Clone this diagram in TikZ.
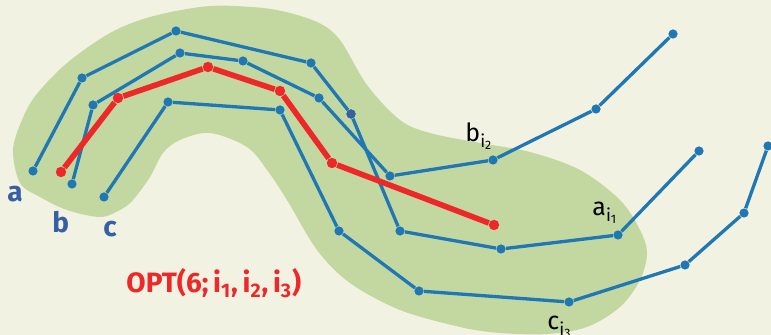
\documentclass[tikz,border=0pt]{standalone}
\usepackage{fontspec}
\setmainfont{Fira Sans}
\definecolor{paper}{RGB}{242,242,226}
\definecolor{blob}{RGB}{195,216,160}
\definecolor{pathblue}{RGB}{31,119,180}
\definecolor{labelblue}{RGB}{55,95,165}
\definecolor{optred}{RGB}{238,40,40}
\tikzset{
  walk/.style={draw=pathblue, line width=1.65pt},
  best/.style={draw=optred, line width=2.8pt},
  bluedot/.style={circle, fill=pathblue, inner sep=0pt, minimum size=4.6pt},
  reddot/.style={circle, fill=optred, inner sep=0pt, minimum size=5.2pt},
  endlabel/.style={anchor=base west, inner sep=0pt, text=labelblue,
    font=\fontsize{14}{16}\selectfont\bfseries},
  sublabel/.style={anchor=base west, inner sep=0pt,
    font=\fontsize{12.5}{15}\selectfont},
}
\begin{document}
\begin{tikzpicture}[x=0.5pt,y=-0.5pt]
\useasboundingbox[fill=paper] (0,0) rectangle (771,335);

% the region
\fill[blob] plot[smooth cycle, tension=0.55] coordinates {
  (13,150) (22,120) (36,95) (67,63) (110,33) (150,17) (200,7) (235,6)
  (277,10) (317,22) (340,40) (367,85) (400,120) (430,133) (480,143)
  (530,152) (580,170) (620,200) (640,230) (647,253) (640,280) (620,307)
  (587,327) (547,334) (500,333) (460,327) (400,310) (350,283) (317,250)
  (287,200) (267,170) (247,147) (210,133) (180,140) (163,153) (150,177)
  (133,200) (120,210) (100,217) (67,210) (40,197) (20,183)};

% points of the three walks and of the optimum
\foreach \p [count=\i] in {(33,171),(82,78),(176,31),(311,63),(351,114),
    (400,231),(501,249),(618,235),(699,151)}
  \node[bluedot] (a\i) at \p {};
\foreach \p [count=\i] in {(72,184),(93,105),(180,53),(243,61),(319,98),
    (390,176),(493,160),(596,109),(673,34)}
  \node[bluedot] (b\i) at \p {};
\foreach \p [count=\i] in {(104,197),(168,102),(280,110),(339,231),
    (419,291),(569,302),(685,265),(744,213),(768,146)}
  \node[bluedot] (c\i) at \p {};
\foreach \p [count=\i] in {(61,172),(118,98),(208,67),(280,91),(332,163),
    (494,225)}
  \node[reddot] (r\i) at \p {};
\node[bluedot, fill=labelblue] at (a5) {};

\draw[walk] (a1) -- (a2) -- (a3) -- (a4) -- (a5) -- (a6) -- (a7) -- (a8) -- (a9);
\draw[walk] (b1) -- (b2) -- (b3) -- (b4) -- (b5) -- (b6) -- (b7) -- (b8) -- (b9);
\draw[walk] (c1) -- (c2) -- (c3) -- (c4) -- (c5) -- (c6) -- (c7) -- (c8) -- (c9);
\draw[best] (r1) -- (r2) -- (r3) -- (r4) -- (r5) -- (r6);

% labels
\node[endlabel] (la) at (7,202) {a};
\node[endlabel] (lb) at (52,233) {b};
\node[endlabel] (lc) at (103,237) {c};
\node[sublabel] (lbi) at (465,142) {b\textsubscript{i\textsubscript{2}}};
\node[sublabel] (lai) at (592,216) {a\textsubscript{i\textsubscript{1}}};
\node[sublabel] (lci) at (547,330) {c\textsubscript{i\textsubscript{3}}};
\node[endlabel, text=optred] (opt) at (126,293)
  {OPT(6;\,i\textsubscript{1},\,i\textsubscript{2},\,i\textsubscript{3})};
\end{tikzpicture}
\end{document}
